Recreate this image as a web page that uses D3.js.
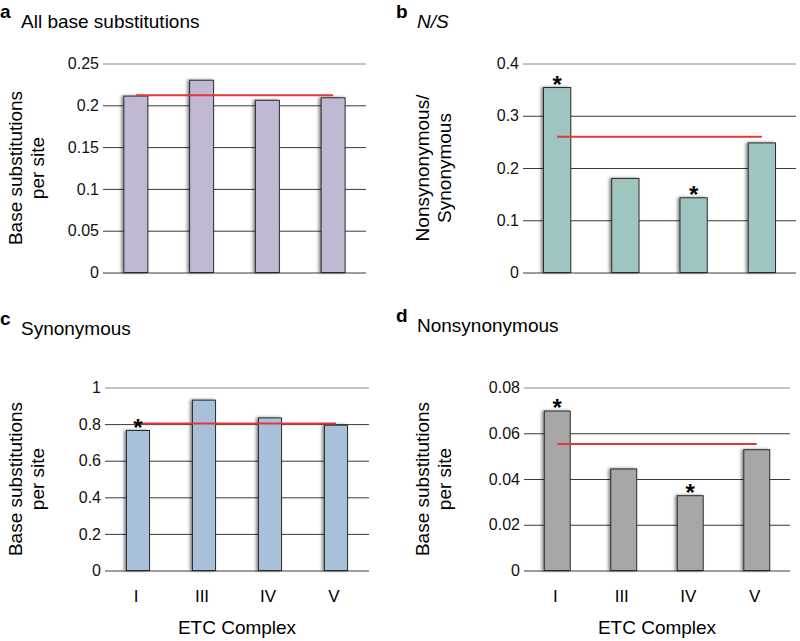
<!DOCTYPE html>
<html>
<head>
<meta charset="utf-8">
<script src="https://cdn.jsdelivr.net/npm/d3@7"></script>
<style>
  body { margin: 0; background: #fff; }
  svg { display: block; font-family: "Liberation Sans", Arial, Helvetica, sans-serif; }
</style>
</head>
<body>
<script>
'use strict';

// ETC complexes on the x axis
const complexes = ["I", "III", "IV", "V"];

// a: all base substitutions per site
const allSubs = [0.211, 0.230, 0.206, 0.209];
const allSubsMean = 0.212;
const allSubsTicks = [0, 0.05, 0.1, 0.15, 0.2, 0.25];

// b: N/S ratio
const nsRatio = [0.354, 0.180, 0.143, 0.248];
const nsRatioMean = 0.260;
const nsRatioStars = [true, false, true, false];
const nsRatioTicks = [0, 0.1, 0.2, 0.3, 0.4];

// c: synonymous substitutions per site
const synSubs = [0.765, 0.931, 0.834, 0.794];
const synSubsMean = 0.803;
const synSubsStars = [true, false, false, false];
const synSubsTicks = [0, 0.2, 0.4, 0.6, 0.8, 1];

// d: nonsynonymous substitutions per site
const nonsynSubs = [0.0697, 0.0444, 0.0327, 0.0528];
const nonsynSubsMean = 0.0553;
const nonsynSubsStars = [true, false, true, false];
const nonsynSubsTicks = [0, 0.02, 0.04, 0.06, 0.08];

const svg = d3.select('body').append('svg')
  .attr('width', 800)
  .attr('height', 641);

// soft shadow on the left of each bar
const filter = svg.append('defs').append('filter')
  .attr('id', 'shadow')
  .attr('x', '-30%').attr('y', '-5%')
  .attr('width', '140%').attr('height', '110%');
filter.append('feDropShadow')
  .attr('dx', -2).attr('dy', 0)
  .attr('stdDeviation', 1.5)
  .attr('flood-color', '#000')
  .attr('flood-opacity', 0.45);

// one panel of the figure
function drawPanel(opt) {
  let g = svg.append('g');

  let x = d3.scaleBand()
    .domain(complexes)
    .range(opt.xRange)
    .paddingInner(opt.pad)
    .paddingOuter(opt.pad / 2);

  let y = d3.scaleLinear()
    .domain([0, opt.ticks[opt.ticks.length - 1]])
    .range(opt.yRange);

  // gridlines + tick labels
  let yAxis = d3.axisLeft(y)
    .tickValues(opt.ticks)
    .tickFormat(d3.format('~g'))
    .tickSize(-(opt.xRange[1] - opt.xRange[0]))
    .tickPadding(4);
  let ax = g.append('g')
    .attr('transform', `translate(${opt.xRange[0]},0)`)
    .call(yAxis);
  ax.select('.domain').remove();
  ax.selectAll('.tick line')
    .attr('stroke', (d, i) => i === opt.ticks.length - 1 ? '#888' : '#3a3a3a');
  ax.selectAll('.tick text')
    .attr('fill', '#111')
    .style('font-size', '16px')
    .style('font-family', 'Liberation Sans, Arial, sans-serif');

  // bars
  g.selectAll('.bar')
    .data(opt.values)
    .enter()
    .append('rect')
      .attr('class', 'bar')
      .attr('x', (d, i) => x(complexes[i]))
      .attr('y', (d) => y(d))
      .attr('width', x.bandwidth())
      .attr('height', (d) => y(0) - y(d))
      .attr('fill', opt.color)
      .attr('stroke', '#2b2b2b')
      .attr('stroke-width', 1)
      .attr('filter', 'url(#shadow)');

  // mean line, from first bar centre to last bar centre
  let cx = (c) => x(c) + x.bandwidth() / 2;
  g.append('line')
    .attr('x1', cx(complexes[0]))
    .attr('x2', cx(complexes[complexes.length - 1]))
    .attr('y1', y(opt.mean))
    .attr('y2', y(opt.mean))
    .attr('stroke', '#e0383a')
    .attr('stroke-width', 2);

  // significance stars
  if (opt.stars) {
    g.selectAll('.star')
      .data(opt.values.map((v, i) => ({ v: v, c: complexes[i], s: opt.stars[i] })).filter((d) => d.s))
      .enter()
      .append('text')
        .attr('x', (d) => cx(d.c))
        .attr('y', (d) => y(d.v) + 5)
        .attr('text-anchor', 'middle')
        .style('font-size', '24px')
        .style('font-weight', 'bold')
        .text('*');
  }

  // x labels
  if (opt.xLabels) {
    g.selectAll('.xl')
      .data(complexes)
      .enter()
      .append('text')
        .attr('x', (d) => cx(d) - 2)
        .attr('y', opt.yRange[0] + 31)
        .attr('text-anchor', 'middle')
        .style('font-size', '17px')
        .text((d) => d);
    g.append('text')
      .attr('x', (opt.xRange[0] + opt.xRange[1]) / 2)
      .attr('y', opt.yRange[0] + 63)
      .attr('text-anchor', 'middle')
      .style('font-size', '19px')
      .text('ETC Complex');
  }

  // y title, two lines
  let midY = (opt.yRange[0] + opt.yRange[1]) / 2;
  let yt = g.append('text')
    .attr('transform', `translate(${opt.titleX},${midY}) rotate(-90)`)
    .attr('text-anchor', 'middle')
    .style('font-size', '19px');
  yt.append('tspan').attr('x', 0).attr('y', 0).text(opt.yTitle[0]);
  yt.append('tspan').attr('x', 0).attr('y', 22).text(opt.yTitle[1]);

  // panel letter and heading
  g.append('text')
    .attr('x', opt.letterPos[0])
    .attr('y', opt.letterPos[1])
    .style('font-size', '19px')
    .style('font-weight', 'bold')
    .text(opt.letter);
  g.append('text')
    .attr('x', opt.letterPos[0] + 21)
    .attr('y', opt.letterPos[1] + 10)
    .style('font-size', '19px')
    .style('font-style', opt.italic ? 'italic' : 'normal')
    .text(opt.heading);
}

drawPanel({
  values: allSubs, mean: allSubsMean, ticks: allSubsTicks,
  xRange: [103, 366], yRange: [272.5, 63.5], pad: 0.635,
  color: '#c1b9d4', titleX: 22,
  yTitle: ['Base substitutions', 'per site'],
  letter: 'a', heading: 'All base substitutions', letterPos: [0, 18]
});

drawPanel({
  values: nsRatio, mean: nsRatioMean, ticks: nsRatioTicks, stars: nsRatioStars,
  xRange: [523, 796], yRange: [272.5, 63.5], pad: 0.6,
  color: '#9fc5c1', titleX: 429,
  yTitle: ['Nonsynonymous/', 'Synonymous'],
  letter: 'b', heading: 'N/S', italic: true, letterPos: [396, 18]
});

drawPanel({
  values: synSubs, mean: synSubsMean, ticks: synSubsTicks, stars: synSubsStars,
  xRange: [105, 369], yRange: [570.5, 387.5], pad: 0.65,
  color: '#a9c0da', titleX: 22, xLabels: true,
  yTitle: ['Base substitutions', 'per site'],
  letter: 'c', heading: 'Synonymous', letterPos: [0, 325]
});

drawPanel({
  values: nonsynSubs, mean: nonsynSubsMean, ticks: nonsynSubsTicks, stars: nonsynSubsStars,
  xRange: [524, 790], yRange: [570.5, 387.5], pad: 0.61,
  color: '#a7a7a7', titleX: 429, xLabels: true,
  yTitle: ['Base substitutions', 'per site'],
  letter: 'd', heading: 'Nonsynonymous', letterPos: [396, 322]
});
</script>
</body>
</html>
